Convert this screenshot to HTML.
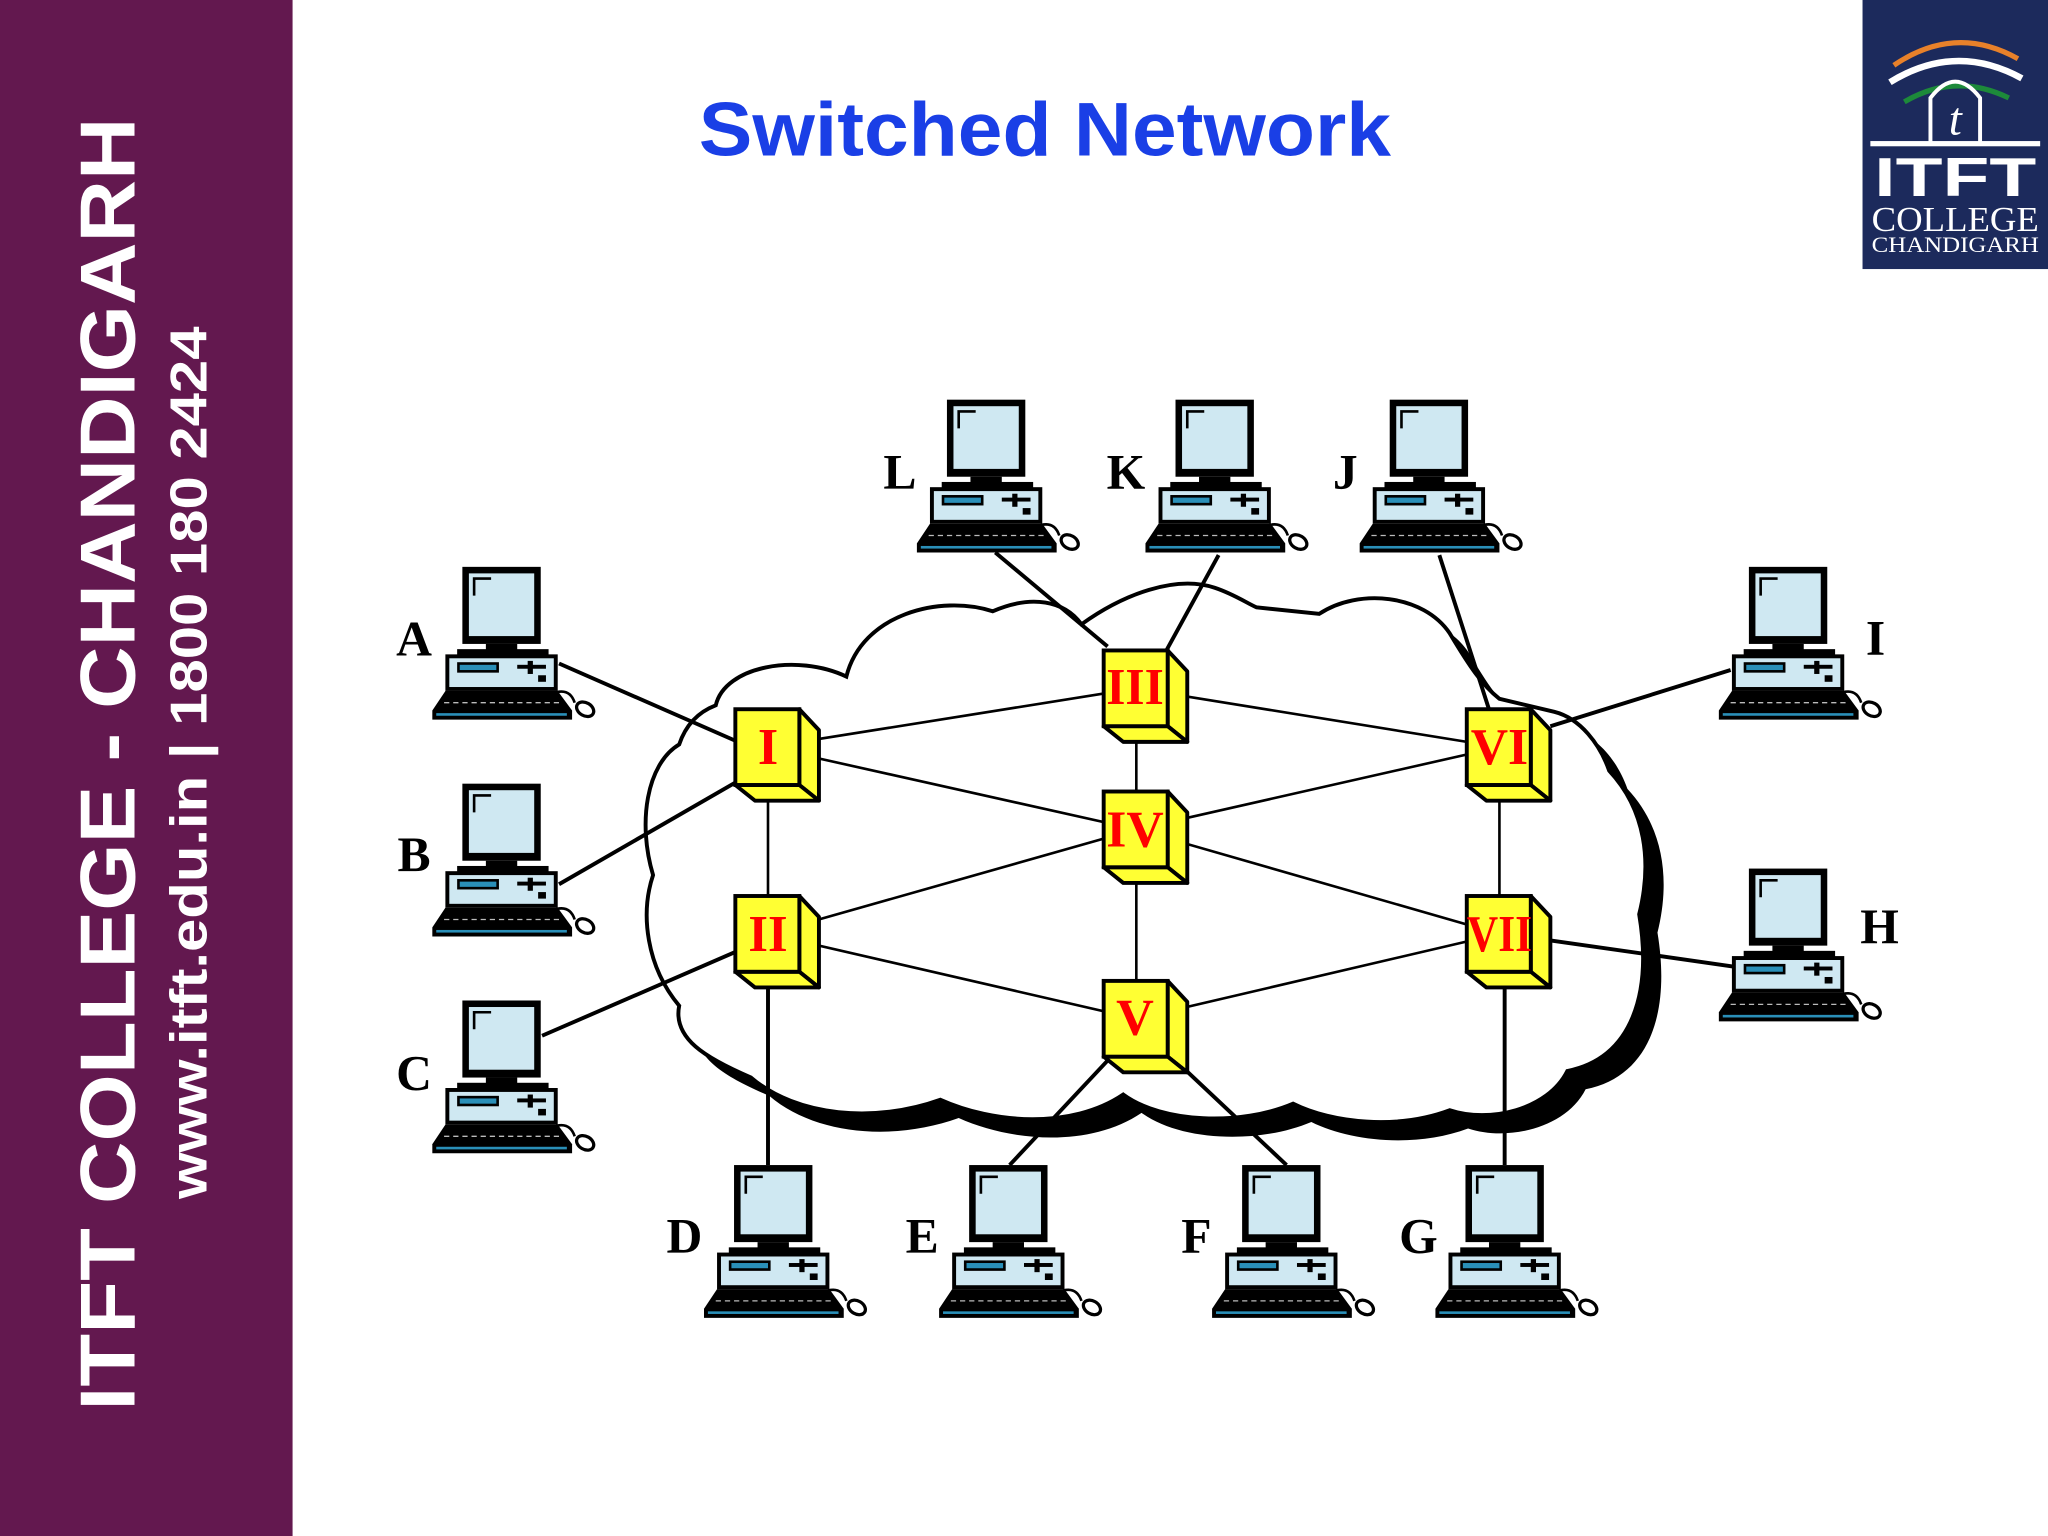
<!DOCTYPE html>
<html><head><meta charset="utf-8"><style>
html,body{margin:0;padding:0;background:#fff;}
svg{display:block;}
</style></head><body>
<svg width="2048" height="1536" viewBox="0 0 1568 1176" xmlns="http://www.w3.org/2000/svg">
<defs>
<g id="pc">
  <rect x="0" y="0" width="60" height="59" fill="#000"/>
  <rect x="5" y="5" width="50" height="48" fill="#cfe8f2"/>
  <path d="M9 22 L9 9 L22 9" stroke="#000" stroke-width="2" fill="none"/>
  <rect x="18" y="59" width="24" height="5" fill="#000"/>
  <rect x="-4" y="63" width="70" height="5" fill="#000"/>
  <rect x="-13" y="67" width="86" height="28" fill="#000"/>
  <rect x="-10" y="70" width="80" height="22" fill="#cfe8f2"/>
  <rect x="-4" y="73" width="32" height="8" fill="#000"/>
  <rect x="-2" y="75" width="28" height="4" fill="#2a8fb8"/>
  <rect x="42" y="75" width="22" height="3" fill="#000"/>
  <rect x="50" y="72" width="4" height="10" fill="#000"/>
  <rect x="58" y="83" width="6" height="5" fill="#000"/>
  <path d="M-13 95 L73 95 L84 110 L84 117 L-23 117 L-23 110 Z" fill="#000"/>
  <path d="M-14 104 L76 104" stroke="#bbb" stroke-width="1" stroke-dasharray="4 3"/>
  <rect x="-20" y="112" width="100" height="2" fill="#2a8fb8"/>
  <path d="M72 96 C80 94 84 98 86 104" stroke="#000" stroke-width="2" fill="none"/>
  <ellipse cx="94" cy="109" rx="7" ry="5" transform="rotate(30 94 109)" fill="#fff" stroke="#000" stroke-width="2.5"/>
</g>
<g id="sw">
  <path d="M49 0 L64 16 L64 70 L49 58 Z" fill="#ffff33" stroke="#000" stroke-width="3" stroke-linejoin="round"/>
  <path d="M0 58 L49 58 L64 70 L15 70 Z" fill="#ffff33" stroke="#000" stroke-width="3" stroke-linejoin="round"/>
  <rect x="0" y="0" width="49" height="58" fill="#ffff33" stroke="#000" stroke-width="3"/>
</g>
</defs>

<rect x="0" y="0" width="224" height="1176" fill="#63184f"/>
<text transform="translate(103,1080) rotate(-90)" font-family="Liberation Sans, sans-serif" font-weight="bold" font-size="60" fill="#fff" textLength="990" lengthAdjust="spacingAndGlyphs">ITFT COLLEGE - CHANDIGARH</text>
<text transform="translate(158,918) rotate(-90)" font-family="Liberation Sans, sans-serif" font-weight="bold" font-size="40" fill="#fff" textLength="668" lengthAdjust="spacingAndGlyphs">www.itft.edu.in  | 1800 180 2424</text>

<text x="800" y="119" text-anchor="middle" font-family="Liberation Sans, sans-serif" font-weight="bold" font-size="58" fill="#1a3fe6" textLength="530" lengthAdjust="spacingAndGlyphs">Switched Network</text>

<rect x="1426" y="0" width="142" height="206" fill="#1c2a5c"/>
<path d="M1450 50 Q1497 18 1545 45" stroke="#e8812a" stroke-width="4" fill="none"/>
<path d="M1447 63 Q1497 32 1548 60" stroke="#fff" stroke-width="5" fill="none"/>
<path d="M1458 78 Q1497 55 1538 75" stroke="#1d8a3a" stroke-width="4" fill="none"/>
<path d="M1478 110 L1478 75 Q1497 50 1516 75 L1516 110" stroke="#fff" stroke-width="3" fill="none"/>
<text x="1497" y="103" text-anchor="middle" font-family="Liberation Serif, serif" font-style="italic" font-size="36" fill="#fff">t</text>
<rect x="1432" y="108" width="130" height="4" fill="#fff"/>
<text x="1497" y="150" text-anchor="middle" font-family="Liberation Sans, sans-serif" font-weight="bold" font-size="42" fill="#fff" textLength="124" lengthAdjust="spacingAndGlyphs">ITFT</text>
<text x="1497" y="177" text-anchor="middle" font-family="Liberation Serif, serif" font-size="27" fill="#fff" textLength="128" lengthAdjust="spacingAndGlyphs">COLLEGE</text>
<text x="1497" y="193" text-anchor="middle" font-family="Liberation Serif, serif" font-size="17" fill="#fff" textLength="128" lengthAdjust="spacingAndGlyphs">CHANDIGARH</text>

<!-- cloud -->
<g>
<path id="cl" d="M548 540 C555 510 610 500 648 518 C660 470 720 455 760 468 C790 455 815 460 828 478 C860 455 900 440 930 450 C945 455 955 462 962 465 L1010 470 C1040 450 1090 455 1110 485 C1125 510 1135 525 1148 535 L1190 545 C1210 550 1225 570 1232 590 C1260 620 1265 660 1255 700 C1265 760 1250 810 1200 820 C1185 850 1140 860 1110 850 C1070 865 1020 860 990 845 C950 862 890 860 860 838 C820 865 760 860 720 842 C670 860 610 855 575 825 C540 810 515 795 520 770 C495 740 490 700 500 670 C488 630 495 585 520 570 C525 555 535 545 548 540 Z" fill="#000" transform="translate(14,14)"/>
<path d="M548 540 C555 510 610 500 648 518 C660 470 720 455 760 468 C790 455 815 460 828 478 C860 455 900 440 930 450 C945 455 955 462 962 465 L1010 470 C1040 450 1090 455 1110 485 C1125 510 1135 525 1148 535 L1190 545 C1210 550 1225 570 1232 590 C1260 620 1265 660 1255 700 C1265 760 1250 810 1200 820 C1185 850 1140 860 1110 850 C1070 865 1020 860 990 845 C950 862 890 860 860 838 C820 865 760 860 720 842 C670 860 610 855 575 825 C540 810 515 795 520 770 C495 740 490 700 500 670 C488 630 495 585 520 570 C525 555 535 545 548 540 Z" fill="#fff" stroke="#000" stroke-width="3"/>
</g>

<!-- switch links -->
<g stroke="#000" stroke-width="2">
<line x1="588" y1="572" x2="870" y2="527"/>
<line x1="588" y1="572" x2="870" y2="635"/>
<line x1="588" y1="572" x2="588" y2="715"/>
<line x1="588" y1="715" x2="870" y2="635"/>
<line x1="588" y1="715" x2="870" y2="780"/>
<line x1="870" y1="527" x2="870" y2="635"/>
<line x1="870" y1="635" x2="870" y2="780"/>
<line x1="870" y1="527" x2="1148" y2="572"/>
<line x1="870" y1="635" x2="1148" y2="572"/>
<line x1="870" y1="635" x2="1148" y2="715"/>
<line x1="870" y1="780" x2="1148" y2="715"/>
<line x1="1148" y1="572" x2="1148" y2="715"/>
</g>
<!-- computer links -->
<g stroke="#000" stroke-width="3">
<line x1="428" y1="508" x2="565" y2="568"/>
<line x1="428" y1="677" x2="565" y2="598"/>
<line x1="415" y1="793" x2="565" y2="728"/>
<line x1="588" y1="892" x2="588" y2="757"/>
<line x1="773" y1="892" x2="848" y2="812"/>
<line x1="985" y1="892" x2="900" y2="812"/>
<line x1="1152" y1="892" x2="1152" y2="757"/>
<line x1="762" y1="423" x2="848" y2="495"/>
<line x1="933" y1="425" x2="893" y2="498"/>
<line x1="1102" y1="425" x2="1140" y2="543"/>
<line x1="1325" y1="513" x2="1187" y2="556"/>
<line x1="1327" y1="740" x2="1187" y2="720"/>
</g>

<!-- computers -->
<use href="#pc" x="354" y="434"/>
<use href="#pc" x="354" y="600"/>
<use href="#pc" x="354" y="766"/>
<use href="#pc" x="725" y="306"/>
<use href="#pc" x="900" y="306"/>
<use href="#pc" x="1064" y="306"/>
<use href="#pc" x="1339" y="434"/>
<use href="#pc" x="1339" y="665"/>
<use href="#pc" x="562" y="892"/>
<use href="#pc" x="742" y="892"/>
<use href="#pc" x="951" y="892"/>
<use href="#pc" x="1122" y="892"/>

<g font-family="Liberation Serif, serif" font-weight="bold" font-size="38" fill="#000" text-anchor="middle">
<text x="317" y="502">A</text>
<text x="317" y="667">B</text>
<text x="317" y="834">C</text>
<text x="689" y="374">L</text>
<text x="862" y="374">K</text>
<text x="1030" y="374">J</text>
<text x="1436" y="501">I</text>
<text x="1439" y="722">H</text>
<text x="524" y="959">D</text>
<text x="706" y="959">E</text>
<text x="916" y="959">F</text>
<text x="1086" y="959">G</text>
</g>

<!-- switches -->
<use href="#sw" x="563" y="543"/>
<use href="#sw" x="563" y="686"/>
<use href="#sw" x="845" y="498"/>
<use href="#sw" x="845" y="606"/>
<use href="#sw" x="845" y="751"/>
<use href="#sw" x="1123" y="543"/>
<use href="#sw" x="1123" y="686"/>
<g font-family="Liberation Serif, serif" font-weight="bold" font-size="40" fill="#ff0000" text-anchor="middle">
<text x="588" y="585">I</text>
<text x="588" y="728" textLength="30" lengthAdjust="spacingAndGlyphs">II</text>
<text x="869" y="539" textLength="44" lengthAdjust="spacingAndGlyphs">III</text>
<text x="869" y="648" textLength="44" lengthAdjust="spacingAndGlyphs">IV</text>
<text x="869" y="792">V</text>
<text x="1148" y="585" textLength="44" lengthAdjust="spacingAndGlyphs">VI</text>
<text x="1148" y="728" textLength="50" lengthAdjust="spacingAndGlyphs">VII</text>
</g>
</svg>
</body></html>
